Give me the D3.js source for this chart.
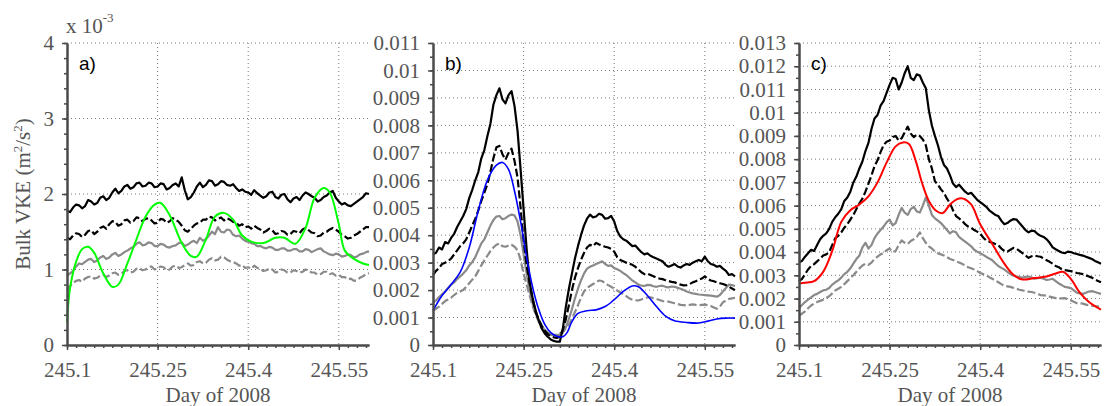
<!DOCTYPE html>
<html>
<head>
<meta charset="utf-8">
<script src="https://cdn.jsdelivr.net/npm/d3@7"></script>
<style>
  body { margin: 0; background: #fff; }
  svg { display: block; }
</style>
</head>
<body>
<svg id="chart" width="1104" height="406"></svg>
<script>
// Sample times (day of 2008) of the measured profiles
const days = [245.100,245.105,245.110,245.115,245.120,245.125,245.130,245.135,245.140,245.145,
              245.150,245.155,245.160,245.165,245.170,245.175,245.180,245.185,245.190,245.195,
              245.200,245.205,245.210,245.215,245.220,245.225,245.230,245.235,245.240,245.245,
              245.250,245.255,245.260,245.265,245.270,245.275,245.280,245.285,245.290,245.295,
              245.300,245.305,245.310,245.315,245.320,245.325,245.330,245.335,245.340,245.345,
              245.350,245.355,245.360,245.365,245.370,245.375,245.380,245.385,245.390,245.395,
              245.400,245.405,245.410,245.415,245.420,245.425,245.430,245.435,245.440,245.445,
              245.450,245.455,245.460,245.465,245.470,245.475,245.480,245.485,245.490,245.495,
              245.500,245.505,245.510,245.515,245.520,245.525,245.530,245.535,245.540,245.545,
              245.550,245.555,245.560,245.565,245.570,245.575,245.580,245.585,245.590,245.595,
              245.600];

// All values in units of 1e-3 m^2/s^2

// Panel a
const aBlackSolid = [1.78,1.76,1.82,1.86,1.85,1.81,1.84,1.92,1.90,1.86,1.88,1.95,1.97,1.92,1.95,2.02,2.07,2.01,2.04,2.10,
                     2.12,2.07,2.09,2.14,2.15,2.10,2.11,2.15,2.14,2.09,2.10,2.14,2.13,2.06,2.08,2.12,2.14,2.10,2.22,2.05,
                     1.93,1.96,2.02,2.10,2.15,2.09,2.12,2.18,2.17,2.11,2.13,2.17,2.16,2.12,2.11,2.13,2.08,2.04,2.06,2.03,
                     2.02,1.99,2.05,2.01,1.98,1.95,1.97,2.02,2.03,1.96,1.94,1.99,2.00,1.93,1.89,1.94,1.96,1.92,1.98,2.02,
                     2.00,1.97,1.95,1.90,1.92,1.96,1.98,2.02,2.04,1.95,1.90,1.86,1.88,1.85,1.84,1.87,1.90,1.93,1.96,2.01,
                     2.00];
const aBlackDashed = [1.42,1.40,1.45,1.48,1.47,1.43,1.46,1.51,1.52,1.47,1.50,1.55,1.57,1.54,1.60,1.64,1.63,1.58,1.60,1.65,
                      1.66,1.62,1.64,1.69,1.68,1.64,1.67,1.68,1.65,1.61,1.62,1.67,1.66,1.62,1.64,1.68,1.66,1.63,1.58,1.52,
                      1.50,1.54,1.58,1.61,1.62,1.66,1.66,1.70,1.69,1.65,1.67,1.69,1.65,1.68,1.66,1.63,1.62,1.58,1.60,1.56,
                      1.57,1.54,1.58,1.55,1.53,1.49,1.51,1.54,1.52,1.47,1.48,1.51,1.50,1.46,1.47,1.51,1.50,1.48,1.53,1.55,
                      1.52,1.49,1.48,1.44,1.45,1.49,1.50,1.53,1.55,1.53,1.50,1.46,1.44,1.41,1.42,1.45,1.47,1.50,1.53,1.56,
                      1.56];
const aGraySolid = [0.92,0.95,0.98,1.04,1.08,1.07,1.10,1.13,1.14,1.10,1.12,1.16,1.18,1.14,1.16,1.20,1.22,1.18,1.20,1.23,
                    1.25,1.28,1.30,1.34,1.36,1.32,1.33,1.36,1.35,1.31,1.31,1.34,1.33,1.30,1.29,1.31,1.32,1.35,1.36,1.31,
                    1.33,1.36,1.38,1.35,1.42,1.38,1.40,1.45,1.50,1.47,1.56,1.50,1.49,1.53,1.52,1.46,1.44,1.45,1.41,1.38,
                    1.37,1.35,1.34,1.31,1.31,1.29,1.28,1.30,1.29,1.26,1.26,1.28,1.28,1.25,1.25,1.27,1.27,1.24,1.24,1.27,
                    1.26,1.23,1.25,1.27,1.28,1.24,1.22,1.20,1.19,1.21,1.20,1.17,1.18,1.20,1.19,1.16,1.17,1.20,1.21,1.23,
                    1.24];
const aGrayDashed = [0.72,0.78,0.82,0.85,0.86,0.84,0.88,0.90,0.91,0.88,0.89,0.92,0.93,0.90,0.92,0.95,0.96,0.93,0.94,0.98,
                     0.99,0.96,0.97,1.01,1.02,0.99,1.00,1.03,1.04,1.00,1.01,1.04,1.03,0.99,1.00,1.04,1.05,1.02,1.03,1.06,
                     1.08,1.05,1.06,1.10,1.11,1.08,1.09,1.13,1.15,1.12,1.13,1.17,1.16,1.13,1.11,1.10,1.08,1.05,1.06,1.02,
                     1.03,1.01,1.05,1.02,1.01,0.98,0.99,1.01,1.00,0.96,0.97,1.00,0.99,0.96,0.96,0.99,0.98,0.96,0.97,1.00,
                     0.99,0.96,0.96,0.93,0.94,0.97,0.97,0.94,0.95,0.92,0.93,0.90,0.90,0.87,0.88,0.85,0.86,0.89,0.91,0.94,
                     0.95];
const aModelDays = [245.100,245.105,245.115,245.125,245.135,245.145,245.160,245.175,245.185,245.200,
                    245.215,245.230,245.245,245.255,245.270,245.290,245.305,245.315,245.330,245.345,
                    245.360,245.375,245.390,245.405,245.425,245.445,245.460,245.478,245.495,245.510,
                    245.525,245.535,245.550,245.560,245.575,245.590,245.600];
const aModel = [0.30,0.75,1.10,1.27,1.30,1.22,0.95,0.77,0.80,1.08,
                1.40,1.70,1.86,1.88,1.72,1.35,1.18,1.17,1.40,1.70,
                1.75,1.66,1.45,1.37,1.35,1.42,1.42,1.34,1.55,1.95,
                2.08,2.02,1.60,1.25,1.14,1.08,1.06];

// Panel b
const bBlackSolid = [3.30,3.36,3.55,3.48,3.75,3.70,3.90,4.05,4.30,4.50,4.70,4.95,5.35,5.65,6.00,6.30,6.80,7.10,7.60,8.05,
                     8.75,9.10,9.35,8.95,8.80,9.10,9.25,8.70,7.80,6.40,4.95,3.50,2.30,1.70,1.25,0.90,0.60,0.42,0.30,0.20,
                     0.15,0.12,0.12,0.60,1.40,2.05,2.60,3.15,3.60,4.00,4.35,4.60,4.75,4.65,4.68,4.78,4.74,4.60,4.62,4.70,
                     4.50,4.15,3.95,3.85,3.80,3.70,3.60,3.62,3.50,3.38,3.30,3.34,3.25,3.20,3.15,3.10,3.05,2.92,2.85,2.90,
                     2.95,2.86,2.82,2.90,2.95,2.92,3.00,3.05,3.10,3.05,3.22,3.05,2.95,2.92,2.85,2.88,2.78,2.70,2.55,2.58,
                     2.50];
const bBlackDashed = [2.55,2.70,2.80,2.95,3.00,3.05,3.15,3.30,3.45,3.60,3.70,3.85,4.10,4.35,4.60,4.90,5.25,5.55,5.85,6.30,
                      6.80,7.20,7.25,6.95,6.75,7.00,7.15,6.70,6.10,5.00,3.80,2.90,2.25,1.65,1.20,0.92,0.70,0.52,0.40,0.32,
                      0.28,0.26,0.30,0.55,0.95,1.45,2.00,2.45,2.80,3.10,3.35,3.55,3.65,3.60,3.72,3.66,3.62,3.58,3.55,3.50,
                      3.40,3.20,3.10,3.05,3.00,2.96,2.92,2.85,2.75,2.65,2.58,2.60,2.55,2.50,2.45,2.42,2.40,2.36,2.33,2.30,
                      2.28,2.24,2.20,2.17,2.18,2.22,2.28,2.32,2.38,2.42,2.50,2.40,2.35,2.32,2.28,2.25,2.22,2.18,2.12,2.06,
                      2.00];
const bGraySolid = [1.55,1.62,1.75,1.85,1.95,2.08,2.20,2.28,2.40,2.50,2.60,2.72,2.90,3.02,3.20,3.45,3.70,3.85,4.10,4.35,
                    4.55,4.68,4.70,4.58,4.62,4.70,4.75,4.72,4.50,4.00,3.30,2.60,2.00,1.50,1.15,0.90,0.70,0.55,0.45,0.38,
                    0.35,0.35,0.38,0.45,0.65,0.95,1.30,1.70,2.05,2.35,2.60,2.78,2.85,2.90,2.95,3.00,3.05,2.95,2.88,2.90,
                    2.80,2.76,2.70,2.62,2.55,2.45,2.35,2.28,2.20,2.16,2.15,2.19,2.18,2.14,2.12,2.15,2.16,2.12,2.10,2.13,
                    2.12,2.08,2.05,2.00,1.95,1.91,1.88,1.86,1.84,1.83,1.82,1.81,1.80,1.78,1.76,1.82,1.95,2.08,2.20,2.18,
                    2.15];
const bGrayDashed = [1.25,1.32,1.40,1.50,1.60,1.66,1.72,1.82,1.90,1.95,2.00,2.12,2.25,2.38,2.50,2.70,2.90,3.08,3.25,3.42,
                     3.55,3.65,3.70,3.60,3.58,3.62,3.65,3.58,3.45,3.10,2.60,2.20,1.80,1.42,1.10,0.85,0.65,0.53,0.45,0.40,
                     0.36,0.38,0.42,0.50,0.60,0.75,0.95,1.20,1.45,1.72,1.95,2.08,2.15,2.22,2.28,2.35,2.33,2.25,2.18,2.12,
                     2.05,1.98,1.92,1.85,1.78,1.70,1.65,1.63,1.62,1.66,1.70,1.73,1.74,1.70,1.68,1.64,1.60,1.59,1.58,1.55,
                     1.52,1.49,1.46,1.45,1.44,1.46,1.48,1.46,1.45,1.46,1.47,1.45,1.42,1.37,1.32,1.40,1.55,1.62,1.68,1.70,
                     1.72];
const bModelDays = [245.100,245.115,245.130,245.145,245.160,245.175,245.190,245.205,245.215,245.225,
                    245.235,245.245,245.255,245.265,245.275,245.285,245.295,245.305,245.315,245.322,
                    245.330,245.340,245.355,245.370,245.385,245.400,245.415,245.430,245.440,245.455,
                    245.470,245.485,245.500,245.520,245.540,245.555,245.570,245.585,245.600];
const bModel = [1.25,1.80,2.20,2.65,3.55,4.90,6.00,6.55,6.65,6.40,
                5.60,4.50,3.20,2.10,1.30,0.75,0.45,0.32,0.30,0.45,
                0.85,1.15,1.25,1.28,1.40,1.65,1.95,2.15,2.12,1.80,
                1.40,1.05,0.88,0.82,0.80,0.87,0.95,0.98,0.98];

// Panel c
const cBlackSolid = [3.55,3.62,3.80,3.95,4.10,4.05,4.30,4.55,4.70,4.80,5.00,5.30,5.50,5.65,5.85,6.20,6.35,6.60,7.00,7.25,
                     7.60,7.90,8.35,8.70,9.30,9.75,9.90,10.30,10.50,10.85,11.20,11.50,11.45,11.00,11.30,11.70,12.00,11.50,11.40,11.65,
                     11.60,11.30,11.05,10.10,9.45,9.00,8.60,8.10,7.75,7.60,7.30,6.95,6.80,6.90,6.75,6.60,6.50,6.55,6.40,6.25,
                     6.15,6.05,5.95,5.80,5.70,5.60,5.55,5.35,5.20,5.25,5.35,5.42,5.40,5.25,5.10,4.95,4.85,4.92,4.90,4.78,
                     4.70,4.65,4.55,4.40,4.20,4.12,4.05,3.98,3.95,4.02,4.00,3.95,3.92,3.88,3.85,3.80,3.75,3.70,3.62,3.56,
                     3.50];
const cBlackDashed = [2.75,2.85,3.05,3.25,3.40,3.48,3.60,3.72,3.85,3.90,4.00,4.30,4.60,4.70,4.85,5.05,5.20,5.40,5.60,5.85,
                      6.10,6.30,6.60,6.95,7.30,7.70,7.95,8.30,8.60,8.75,8.80,8.95,9.00,8.80,8.90,9.15,9.40,9.10,8.95,9.05,
                      9.00,8.85,8.60,8.00,7.60,7.05,6.90,6.70,6.55,6.30,6.10,5.80,5.55,5.45,5.35,5.20,5.10,5.05,4.95,4.88,
                      4.80,4.62,4.50,4.45,4.40,4.35,4.30,4.15,4.05,4.02,4.10,4.18,4.15,4.05,3.95,3.85,3.75,3.82,3.85,3.82,
                      3.80,3.72,3.65,3.58,3.50,3.40,3.35,3.26,3.22,3.20,3.18,3.14,3.10,3.08,3.05,3.00,2.95,2.90,2.82,2.76,
                      2.70];
const cGraySolid = [1.60,1.72,1.85,1.95,2.05,2.15,2.20,2.28,2.35,2.38,2.45,2.60,2.70,2.78,2.90,3.05,3.15,3.30,3.50,3.70,
                    3.85,4.20,4.40,4.15,4.30,4.60,4.80,4.95,5.10,5.28,5.40,5.15,5.25,5.60,5.90,5.70,5.60,5.85,5.95,5.75,
                    5.70,6.00,6.35,6.00,5.60,5.45,5.35,5.25,5.10,4.95,4.80,4.90,4.85,4.65,4.55,4.45,4.35,4.25,4.10,4.02,
                    3.95,3.88,3.80,3.72,3.65,3.52,3.40,3.32,3.25,3.15,3.05,2.98,2.95,2.92,2.90,2.93,2.95,2.90,2.85,2.88,
                    2.90,2.85,2.80,2.82,2.85,2.75,2.65,2.58,2.50,2.48,2.45,2.35,2.25,2.22,2.20,2.25,2.30,2.32,2.28,2.24,
                    2.20];
const cGrayDashed = [1.25,1.35,1.45,1.58,1.70,1.78,1.85,1.90,1.95,2.02,2.10,2.22,2.35,2.42,2.50,2.62,2.75,2.88,3.00,3.15,
                     3.30,3.42,3.50,3.45,3.55,3.70,3.80,3.90,3.95,4.08,4.15,4.00,4.05,4.30,4.50,4.40,4.35,4.48,4.55,4.65,
                     4.85,4.60,4.40,4.25,4.15,4.02,3.95,3.90,3.85,3.78,3.70,3.66,3.60,3.55,3.50,3.42,3.35,3.30,3.25,3.18,
                     3.10,3.05,3.00,2.92,2.85,2.78,2.70,2.62,2.55,2.52,2.50,2.46,2.42,2.38,2.35,2.33,2.30,2.28,2.25,2.20,
                     2.15,2.14,2.12,2.08,2.05,2.02,2.00,2.01,2.02,1.96,1.92,1.86,1.80,1.79,1.78,1.74,1.70,1.69,1.68,1.65,
                     1.62];
const cModelDays = [245.100,245.110,245.125,245.140,245.155,245.170,245.185,245.200,245.215,245.230,
                    245.245,245.260,245.272,245.282,245.293,245.304,245.315,245.327,245.338,245.350,
                    245.362,245.372,245.385,245.400,245.420,245.440,245.455,245.470,245.490,245.510,
                    245.525,245.537,245.550,245.565,245.580,245.600];
const cModel = [2.65,2.68,2.75,3.15,4.05,5.30,5.80,6.05,6.40,7.00,
                7.85,8.55,8.72,8.65,7.95,6.95,6.20,5.78,5.68,6.05,
                6.28,6.30,6.05,5.20,4.35,3.50,3.02,2.82,2.88,2.95,
                3.08,3.15,2.85,2.25,1.85,1.52];

// Axis ticks
const xTicks = [245.1, 245.25, 245.4, 245.55];
const xTickLabels = ["245.1", "245.25", "245.4", "245.55"];
const aYTicks = [0, 1, 2, 3, 4];
const bYTicks = [0,1,2,3,4,5,6,7,8,9,10,11];
const cYTicks = [0,1,2,3,4,5,6,7,8,9,10,11,12,13];
const panelTags = ["a)", "b)", "c)"];

// ---------------------------------------------------------------
const svg = d3.select("#chart");
const TOP = 43, BOTTOM = 345, W = 302;
const SERIF = "'Liberation Serif', 'Times New Roman', serif";
const SANS = "'Liberation Sans', Arial, sans-serif";
const AXIS_COLOR = "#4a4a4a";
const LABEL_COLOR = "#555";
const GRAY = "#8a8a8a";

const milli = v => String(v / 1000);

const panels = [
  { left: 67,  tag: panelTags[0], yMax: 4,  yTicks: aYTicks, yMinor: 0.2, fmt: v => String(v),
    profiles: [aGrayDashed, aGraySolid, aBlackDashed, aBlackSolid],
    modelDays: aModelDays, model: aModel, modelColor: "#00ff00", modelWidth: 2 },
  { left: 433, tag: panelTags[1], yMax: 11, yTicks: bYTicks, yMinor: 0.5, fmt: milli,
    profiles: [bGrayDashed, bGraySolid, bBlackDashed, bBlackSolid],
    modelDays: bModelDays, model: bModel, modelColor: "#0000ff", modelWidth: 1.6 },
  { left: 799, tag: panelTags[2], yMax: 13, yTicks: cYTicks, yMinor: 0.5, fmt: milli,
    profiles: [cGrayDashed, cGraySolid, cBlackDashed, cBlackSolid],
    modelDays: cModelDays, model: cModel, modelColor: "#ff0000", modelWidth: 2 }
];

// style for the four measured profiles: gray dashed, gray solid, black dashed, black solid
const profileStyles = [
  { color: GRAY,   dash: "8,3" },
  { color: GRAY,   dash: null },
  { color: "#000", dash: "8,3" },
  { color: "#000", dash: null }
];

function minorValues(lo, hi, step) {
  const out = [];
  const n = Math.round((hi - lo) / step);
  for (let i = 0; i <= n; i++) out.push(+(lo + i * step).toFixed(6));
  return out;
}

panels.forEach(p => {
  const x = d3.scaleLinear().domain([245.1, 245.6]).range([p.left, p.left + W]);
  const y = d3.scaleLinear().domain([0, p.yMax]).range([BOTTOM, TOP]);
  const g = svg.append("g");

  // dotted grid
  const grid = g.append("g").attr("stroke", "#7a7a7a").attr("stroke-width", 1)
    .attr("stroke-dasharray", "1,3").attr("fill", "none");
  p.yTicks.filter(v => v > 0).forEach(v => {
    grid.append("line").attr("x1", p.left).attr("x2", p.left + W)
      .attr("y1", y(v)).attr("y2", y(v));
  });
  xTicks.filter(v => v > 245.1).forEach(v => {
    grid.append("line").attr("x1", x(v)).attr("x2", x(v))
      .attr("y1", TOP).attr("y2", BOTTOM);
  });

  // measured profiles
  const line = d3.line().x(d => x(d[0])).y(d => y(d[1]));
  p.profiles.forEach((vals, i) => {
    const st = profileStyles[i];
    g.append("path")
      .datum(days.map((d, k) => [d, vals[k]]))
      .attr("d", line)
      .attr("fill", "none")
      .attr("stroke", st.color)
      .attr("stroke-width", 2.2)
      .attr("stroke-linejoin", "round")
      .attr("stroke-dasharray", st.dash);
  });

  // smooth model curve
  const smooth = d3.line().x(d => x(d[0])).y(d => y(d[1])).curve(d3.curveCatmullRom.alpha(0.5));
  g.append("path")
    .datum(p.modelDays.map((d, k) => [d, p.model[k]]))
    .attr("d", smooth)
    .attr("fill", "none")
    .attr("stroke", p.modelColor)
    .attr("stroke-width", p.modelWidth);

  // minor ticks
  const yMinorAxis = d3.axisLeft(y).tickValues(minorValues(0, p.yMax, p.yMinor))
    .tickSize(3).tickSizeOuter(0).tickFormat("");
  const xMinorAxis = d3.axisBottom(x).tickValues(minorValues(245.1, 245.595, 0.015))
    .tickSize(3).tickSizeOuter(0).tickFormat("");
  g.append("g").attr("transform", `translate(${p.left},0)`).call(yMinorAxis);
  g.append("g").attr("transform", `translate(0,${BOTTOM})`).call(xMinorAxis);

  // major axes
  const yAxis = d3.axisLeft(y).tickValues(p.yTicks).tickSize(5).tickSizeOuter(0)
    .tickPadding(8).tickFormat(p.fmt);
  const xAxis = d3.axisBottom(x).tickValues(xTicks).tickSize(5).tickSizeOuter(0)
    .tickPadding(12).tickFormat((d, i) => xTickLabels[i]);
  const ya = g.append("g").attr("transform", `translate(${p.left},0)`).call(yAxis);
  const xa = g.append("g").attr("transform", `translate(0,${BOTTOM})`).call(xAxis);

  g.selectAll(".domain").attr("stroke", AXIS_COLOR).attr("stroke-width", 2);
  g.selectAll(".tick line").attr("stroke", AXIS_COLOR).attr("stroke-width", 1.5);
  [ya, xa].forEach(a => a.attr("font-family", null).attr("font-size", null)
    .selectAll("text")
    .style("font-family", SERIF).style("font-size", "21px").attr("fill", LABEL_COLOR));

  // x axis title
  g.append("text").attr("x", p.left + W / 2).attr("y", 402)
    .attr("text-anchor", "middle").style("font-family", SERIF).style("font-size", "21px")
    .attr("fill", LABEL_COLOR).text("Day of 2008");

  // panel tag
  g.append("text").attr("x", p.left + 12).attr("y", 70)
    .style("font-family", SANS).style("font-size", "19px").attr("fill", "#000").text(p.tag);
});

// y axis title
const yt = svg.append("text")
  .attr("transform", "translate(30,194) rotate(-90)")
  .attr("text-anchor", "middle").style("font-family", SERIF).style("font-size", "21px")
  .attr("fill", LABEL_COLOR);
yt.append("tspan").text("Bulk VKE (m");
yt.append("tspan").style("font-size", "13px").attr("dy", -8).text("2");
yt.append("tspan").attr("dy", 8).text("/s");
yt.append("tspan").style("font-size", "13px").attr("dy", -8).text("2");
yt.append("tspan").attr("dy", 8).text(")");

// exponent note for panel a
const ex = svg.append("text").attr("x", 66).attr("y", 33)
  .style("font-family", SERIF).style("font-size", "21px").attr("fill", LABEL_COLOR);
ex.append("tspan").text("x 10");
ex.append("tspan").style("font-size", "13px").attr("dy", -11).text("-3");
</script>
</body>
</html>
